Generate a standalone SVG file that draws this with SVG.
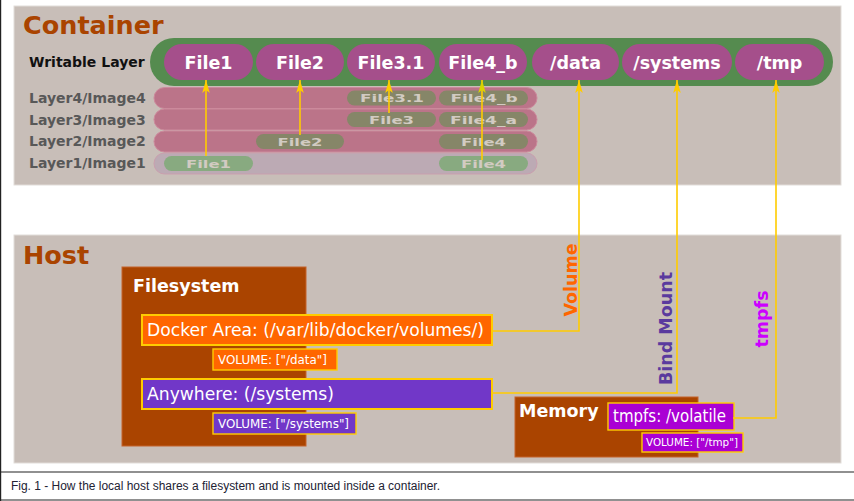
<svg xmlns="http://www.w3.org/2000/svg" width="854" height="501" viewBox="0 0 854 501">
<defs>
<style>
.panel{fill:#c8beb8;stroke:#e2ddd9;stroke-width:1}
.title{font-family:"DejaVu Sans",sans-serif;font-weight:bold;font-size:25.5px;fill:#aa4400}
.lbl{font-family:"DejaVu Sans",sans-serif;font-weight:bold;font-size:14px;fill:#585858}
.pill{fill:#a54f8b}
.ptxt{font-family:"DejaVu Sans",sans-serif;font-weight:bold;font-size:17.5px;fill:#ffffff;text-anchor:middle}
.band{fill:#bb7489;stroke:#cc8a9c;stroke-width:1}
.sp{fill:#868668}
.spg{fill:#88aa80}
.stxt{font-family:"DejaVu Sans",sans-serif;font-weight:bold;font-size:11px;fill:#d2cbc2;text-anchor:middle}
.conn{fill:none;stroke:#ffcc00;stroke-width:1.6}
.brown{fill:#aa4400;stroke:#c4622a;stroke-width:1}
.htxt{font-family:"DejaVu Sans",sans-serif;font-weight:bold;font-size:17.5px;fill:#ffffff}
.btxt{font-family:"DejaVu Sans",sans-serif;font-size:17px;fill:#ffffff}
.vtxt{font-family:"DejaVu Sans",sans-serif;font-size:12px;fill:#ffffff}
.ybox{stroke:#ffcc00;stroke-width:2}
.ybox1{stroke:#ffcc00;stroke-width:1.4}
.rot{font-family:"DejaVu Sans",sans-serif;font-weight:bold;font-size:17.5px;text-anchor:middle}
</style>
<marker id="ah" viewBox="-14 -5 15 10" refX="0" refY="0" markerWidth="15" markerHeight="10" markerUnits="userSpaceOnUse" orient="auto">
<path d="M0,0 L-13,-3.8 L-10,0 L-13,3.8 Z" fill="#ffcc00"/>
</marker>
<marker id="ah2" viewBox="-14 -5 15 10" refX="0" refY="0" markerWidth="15" markerHeight="10" markerUnits="userSpaceOnUse" orient="auto">
<path d="M0,0 L-13,-3.8 L-10,0 L-13,3.8 Z" fill="#d8d400"/>
</marker>
</defs>
<rect x="0" y="0" width="854" height="501" fill="#ffffff"/>
<g id="frame" stroke="#222222" stroke-width="1.2" fill="none">
<line x1="0.6" y1="0" x2="0.6" y2="501"/>
<line x1="0" y1="472" x2="854" y2="472"/>
<line x1="0" y1="500" x2="854" y2="500"/>
</g>
<text id="caption" x="11" y="490" font-family="'Liberation Sans',Arial,sans-serif" font-size="12" fill="#222233" textLength="429" lengthAdjust="spacingAndGlyphs">Fig. 1 - How the local host shares a filesystem and is mounted inside a container.</text>

<g id="container">
<rect class="panel" x="14" y="6" width="827" height="179"/>
<text class="title" x="23" y="34">Container</text>
</g>
<g id="host">
<rect class="panel" x="14" y="235" width="827" height="228"/>
<text class="title" x="23" y="264">Host</text>
</g>

<g id="layer-labels">
<text x="29" y="67" font-family="'DejaVu Sans',sans-serif" font-weight="bold" font-size="14" fill="#111111">Writable Layer</text>
<text class="lbl" x="29" y="103">Layer4/Image4</text>
<text class="lbl" x="29" y="124.5">Layer3/Image3</text>
<text class="lbl" x="29" y="146">Layer2/Image2</text>
<text class="lbl" x="29" y="168">Layer1/Image1</text>
</g>

<g id="layer1">
<rect x="154" y="153" width="383" height="21" rx="10.5" fill="#bcaab4" stroke="#c99fae" stroke-width="1"/>
<rect class="spg" x="164" y="156" width="89" height="15" rx="7.5"/>
<text class="stxt" x="208.5" y="167.5" textLength="45" lengthAdjust="spacingAndGlyphs">File1</text>
<rect class="spg" x="439" y="156" width="89" height="15" rx="7.5"/>
<text class="stxt" x="483.5" y="167.5" textLength="45" lengthAdjust="spacingAndGlyphs">File4</text>
</g>
<g id="layer2">
<rect class="band" x="154" y="131" width="383" height="21" rx="10.5"/>
<rect class="sp" x="256" y="134" width="88" height="15" rx="7.5"/>
<text class="stxt" x="300" y="145.5" textLength="45" lengthAdjust="spacingAndGlyphs">File2</text>
<rect class="sp" x="439" y="134" width="89" height="15" rx="7.5"/>
<text class="stxt" x="483.5" y="145.5" textLength="45" lengthAdjust="spacingAndGlyphs">File4</text>
</g>
<g id="layer3">
<rect class="band" x="154" y="109" width="383" height="21" rx="10.5"/>
<rect class="sp" x="347" y="112" width="89" height="15" rx="7.5"/>
<text class="stxt" x="391.5" y="123.5" textLength="45" lengthAdjust="spacingAndGlyphs">File3</text>
<rect class="sp" x="439" y="112" width="89" height="15" rx="7.5"/>
<text class="stxt" x="483.5" y="123.5" textLength="67" lengthAdjust="spacingAndGlyphs">File4_a</text>
</g>
<g id="layer4">
<rect class="band" x="154" y="87.5" width="383" height="21" rx="10.5"/>
<rect class="sp" x="347" y="90.5" width="89" height="15" rx="7.5"/>
<text class="stxt" x="392" y="102" textLength="64" lengthAdjust="spacingAndGlyphs">File3.1</text>
<rect class="sp" x="439" y="90.5" width="89" height="15" rx="7.5"/>
<text class="stxt" x="484" y="102" textLength="67" lengthAdjust="spacingAndGlyphs">File4_b</text>
</g>

<g id="writable-layer">
<rect x="150" y="38" width="683" height="48" rx="24" fill="#558b4f"/>
<rect class="pill" x="164" y="44" width="89" height="36" rx="18"/>
<text class="ptxt" x="208.5" y="68.5">File1</text>
<rect class="pill" x="256" y="44" width="88" height="36" rx="18"/>
<text class="ptxt" x="300" y="68.5">File2</text>
<rect class="pill" x="347" y="44" width="88" height="36" rx="18"/>
<text class="ptxt" x="391" y="68.5">File3.1</text>
<rect class="pill" x="439" y="44" width="88" height="36" rx="18"/>
<text class="ptxt" x="483" y="68.5">File4_b</text>
<rect class="pill" x="532" y="44" width="87" height="36" rx="18"/>
<text class="ptxt" x="575.5" y="68.5">/data</text>
<rect class="pill" x="622" y="44" width="110" height="36" rx="18"/>
<text class="ptxt" x="677" y="68.5">/systems</text>
<rect class="pill" x="735" y="44" width="89" height="36" rx="18"/>
<text class="ptxt" x="779.5" y="68.5">/tmp</text>
</g>

<g id="filesystem">
<rect class="brown" x="122" y="267" width="184" height="179"/>
<text class="htxt" x="133" y="292">Filesystem</text>
</g>
<g id="docker-area">
<rect class="ybox" x="142" y="315" width="350" height="30" fill="#ff6600"/>
<text class="btxt" x="147" y="336" textLength="337" lengthAdjust="spacingAndGlyphs">Docker Area: (/var/lib/docker/volumes/)</text>
</g>
<g id="volume-data">
<rect class="ybox1" x="213" y="349" width="124" height="21" fill="#ff6600"/>
<text class="vtxt" x="218" y="364" textLength="109" lengthAdjust="spacingAndGlyphs">VOLUME: ["/data"]</text>
</g>
<g id="anywhere">
<rect class="ybox" x="142" y="379" width="350" height="30" fill="#7137c8"/>
<text class="btxt" x="147" y="400" textLength="187" lengthAdjust="spacingAndGlyphs">Anywhere: (/systems)</text>
</g>
<g id="volume-systems">
<rect class="ybox1" x="213" y="413" width="143" height="21" fill="#7137c8"/>
<text class="vtxt" x="218" y="428" textLength="131" lengthAdjust="spacingAndGlyphs">VOLUME: ["/systems"]</text>
</g>
<g id="memory">
<rect class="brown" x="515" y="397" width="183" height="60"/>
<text class="htxt" x="519" y="417">Memory</text>
</g>
<g id="tmpfs-volatile">
<rect class="ybox1" x="608" y="403" width="126" height="27" fill="#aa00d4"/>
<text class="btxt" x="613" y="422" textLength="113" lengthAdjust="spacingAndGlyphs">tmpfs: /volatile</text>
</g>
<g id="volume-tmp">
<rect class="ybox1" x="642" y="433" width="101" height="19" fill="#aa00d4"/>
<text class="vtxt" x="646" y="446" style="font-size:10.5px" textLength="92" lengthAdjust="spacingAndGlyphs">VOLUME: ["/tmp"]</text>
</g>

<g id="connectors">
<path class="conn" d="M206,156 V80" marker-end="url(#ah)"/>
<path class="conn" d="M300,135 V80" marker-end="url(#ah)"/>
<path class="conn" d="M389,113 V80" stroke-width="1.3" marker-end="url(#ah)"/>
<path class="conn" d="M482,160 V80" stroke="#d8d400" marker-end="url(#ah2)"/>
<path class="conn" d="M492,331 H579 V80" marker-end="url(#ah)"/>
<path class="conn" d="M492,393 H677 V80" marker-end="url(#ah)"/>
<path class="conn" d="M733,418 H776 V80" marker-end="url(#ah)"/>
</g>
<g id="connector-labels">
<text class="rot" x="577" y="280" fill="#ff6600" transform="rotate(-90 577 280)">Volume</text>
<text class="rot" x="672" y="328.5" fill="#5a3a9e" transform="rotate(-90 672 328.5)">Bind Mount</text>
<text class="rot" x="768" y="319" fill="#cc00ff" transform="rotate(-90 768 319)">tmpfs</text>
</g>
</svg>
